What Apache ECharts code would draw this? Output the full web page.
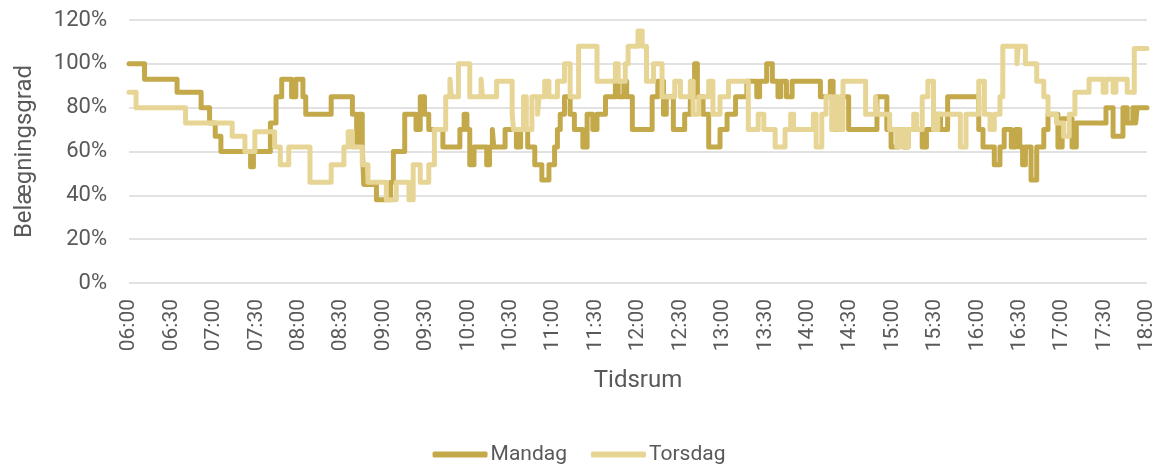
<!DOCTYPE html>
<html>
<head>
<meta charset="utf-8">
<script src="https://cdn.jsdelivr.net/npm/echarts@6/dist/echarts.min.js"></script>
<style>
  html, body { margin: 0; padding: 0; background: #fff; }
  #chart { width: 1158px; height: 465px; }
</style>
</head>
<body>
<div id="chart"></div>
<script>
// minutes after 06:00 where the value changes, and the occupancy (%) from that minute on
const mandagMin = [0, 11, 34, 51, 57, 61, 65, 86, 88, 100, 104, 108, 115, 118, 123, 125, 143, 158, 161, 163,
  165, 166, 175, 185, 187, 195, 203, 206, 209, 212, 222, 234, 237, 239, 241, 244, 253, 255, 257, 258,
  266, 274, 277, 282, 287, 292, 297, 301, 303, 305, 308, 312, 315, 321, 324, 328, 331, 337, 344, 346,
  350, 352, 356, 370, 374, 378, 380, 385, 393, 397, 400, 402, 406, 410, 418, 423, 429, 437, 444, 446,
  451, 455, 459, 461, 465, 469, 489, 496, 498, 504, 509, 529, 536, 539, 544, 548, 551, 561, 564, 570,
  574, 579, 601, 604, 612, 616, 619, 624, 627, 630, 632, 634, 638, 642, 647, 650, 657, 660, 667, 670,
  691, 696, 703, 706, 710, 712, 713, 720];
const mandagVal = [100, 93, 87, 80, 73, 67, 60, 53, 60, 73, 85, 93, 85, 93, 85, 77, 85, 77, 64, 77,
  62, 45, 38, 46, 60, 77, 70, 85, 77, 70, 62, 70, 77, 70, 54, 62, 54, 62, 70, 62,
  70, 62, 70, 62, 54, 47, 54, 62, 70, 77, 85, 77, 70, 62, 77, 70, 77, 85, 92, 85,
  92, 85, 70, 85, 92, 77, 85, 70, 77, 85, 100, 85, 77, 62, 70, 77, 85, 92, 85, 92,
  100, 92, 85, 92, 85, 92, 85, 92, 70, 85, 70, 85, 70, 62, 70, 62, 70, 62, 70, 77,
  70, 85, 70, 62, 54, 62, 70, 62, 70, 62, 54, 62, 47, 62, 70, 77, 62, 75, 62, 73,
  80, 67, 80, 73, 80, 73, 80, 80];

const torsdagMin = [0, 5, 40, 73, 82, 89, 103, 107, 113, 128, 143, 152, 155, 158, 165, 169, 182, 189, 198, 201,
  206, 212, 216, 224, 227, 228, 233, 241, 249, 250, 260, 271, 272, 279, 281, 285, 289, 290, 294, 297,
  303, 308, 312, 318, 331, 344, 346, 351, 353, 360, 363, 366, 371, 377, 386, 390, 397, 399, 403, 410,
  413, 418, 424, 438, 445, 449, 457, 464, 468, 470, 484, 486, 490, 493, 497, 499, 502, 505, 521, 528,
  529, 538, 543, 545, 548, 551, 555, 557, 561, 565, 569, 572, 588, 592, 601, 605, 609, 612, 616, 618,
  628, 629, 634, 642, 647, 650, 656, 661, 665, 669, 679, 689, 691, 696, 698, 706, 711, 720];
const torsdagVal = [87, 80, 73, 67, 60, 69, 62, 54, 62, 46, 54, 62, 69, 62, 54, 46, 38, 46, 38, 54,
  46, 54, 70, 85, 93, 85, 100, 85, 93, 85, 92, 77, 70, 85, 70, 85, 77, 85, 92, 85,
  92, 100, 85, 108, 92, 100, 92, 100, 108, 115, 108, 92, 100, 85, 92, 85, 92, 77, 85, 92,
  77, 85, 92, 70, 77, 70, 62, 70, 77, 70, 77, 62, 77, 85, 70, 85, 70, 92, 77, 85,
  77, 70, 62, 70, 62, 70, 77, 70, 85, 92, 70, 77, 62, 77, 92, 77, 70, 77, 85, 108,
  100, 108, 100, 92, 85, 77, 73, 67, 77, 87, 93, 87, 93, 87, 93, 87, 107, 107];

const yTicks = [0, 20, 40, 60, 80, 100, 120];

function pairs(mins, vals) {
  return mins.map((m, i) => [m, vals[i]]);
}
function hhmm(m) {
  const h = 6 + Math.floor(m / 60);
  const mm = m % 60;
  return (h < 10 ? "0" : "") + h + ":" + (mm < 10 ? "0" : "") + mm;
}

const font = "Roboto, 'Noto Sans', sans-serif";
const textColor = "#595959";

const chart = echarts.init(document.getElementById("chart"));
chart.setOption({
  animation: false,
  color: ["#C4A94B", "#E7D595"],
  textStyle: { fontFamily: font },
  grid: { left: 129, right: 11, top: 20, bottom: 182 },
  legend: {
    bottom: -5,
    left: "center",
    icon: "roundRect",
    itemWidth: 55,
    itemHeight: 6,
    itemGap: 24,
    textStyle: { fontFamily: font, fontSize: 21, color: textColor, padding: [0, 0, 0, -2] },
    data: ["Mandag", "Torsdag"],
  },
  xAxis: {
    type: "value",
    min: 0,
    max: 720,
    interval: 30,
    name: "Tidsrum",
    nameLocation: "middle",
    nameGap: 86,
    nameTextStyle: { fontFamily: font, fontSize: 24, color: textColor },
    axisLine: { show: false },
    axisTick: { show: false },
    splitLine: { show: false },
    axisLabel: {
      rotate: 90,
      margin: 16,
      fontSize: 21,
      color: textColor,
      fontFamily: font,
      formatter: (v) => hhmm(v),
    },
  },
  yAxis: {
    type: "value",
    min: yTicks[0],
    max: yTicks[yTicks.length - 1],
    interval: 20,
    name: "Belægningsgrad",
    nameLocation: "middle",
    nameGap: 92,
    nameTextStyle: { fontFamily: font, fontSize: 24, color: textColor },
    axisLine: { show: false },
    axisTick: { show: false },
    splitLine: { lineStyle: { color: "#D9D9D9", width: 1.5 } },
    axisLabel: {
      margin: 22,
      fontSize: 22,
      color: textColor,
      fontFamily: font,
      formatter: "{value}%",
    },
  },
  series: [
    {
      name: "Mandag",
      type: "line",
      step: "end",
      symbol: "none",
      lineStyle: { width: 5, cap: "round", join: "round" },
      data: pairs(mandagMin, mandagVal),
    },
    {
      name: "Torsdag",
      type: "line",
      step: "end",
      symbol: "none",
      lineStyle: { width: 5, cap: "round", join: "round" },
      data: pairs(torsdagMin, torsdagVal),
    },
  ],
});
</script>
</body>
</html>
